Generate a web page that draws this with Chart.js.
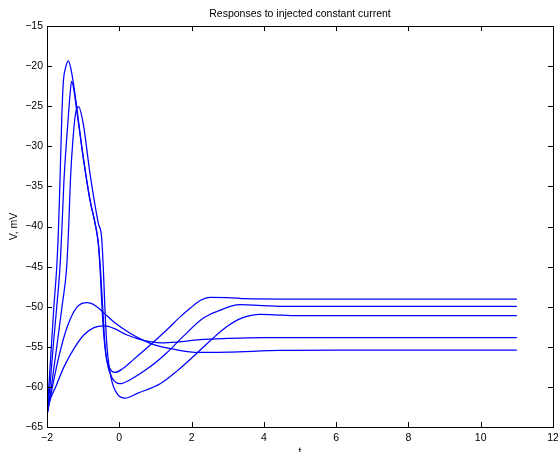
<!DOCTYPE html>
<html>
<head>
<meta charset="utf-8">
<script src="https://cdn.jsdelivr.net/npm/chart.js@4.4.1/dist/chart.umd.min.js"></script>
<style>
  html, body { margin: 0; padding: 0; background: #fff; }
  #wrap { width: 558px; height: 452px; position: relative; }
</style>
</head>
<body>
<div id="wrap"><canvas id="chart"></canvas></div>
<script>
// Membrane potential traces (t, V in mV)
const t1 = [-2, -1.95, -1.88, -1.81, -1.73, -1.68, -1.64, -1.59, -1.55, -1.48, -1.41, -1.34, -1.27, -1.18, -1.0, -0.81, -0.67, -0.58, -0.53, -0.48, -0.42, -0.35, -0.25, -0.12, 0.1, 0.39, 0.8, 1.31, 1.7, 1.96, 2.25, 2.51, 3.0, 3.5, 4.5, 6, 8, 11];
const v1 = [-63.5, -60, -55, -50, -45, -40, -34.2, -26.3, -22.1, -20.1, -19.35, -20.3, -22.1, -25.0, -31.3, -36.7, -39.6, -42.1, -45.4, -50, -54, -56.6, -57.8, -58.2, -57.7, -56.6, -55, -52.9, -51.2, -50.2, -49.2, -48.83, -48.85, -49.0, -49.05, -49.05, -49.05, -49.05];

const t2 = [-2, -1.92, -1.83, -1.73, -1.64, -1.585, -1.53, -1.41, -1.36, -1.32, -1.24, -1.18, -1.0, -0.81, -0.67, -0.58, -0.52, -0.46, -0.40, -0.32, -0.18, 0.02, 0.3, 0.85, 1.3, 1.77, 2.3, 2.7, 3.34, 4.0, 4.45, 6, 8, 11];
const v2 = [-63.5, -60, -55, -50, -45, -40, -34.2, -26.3, -23.4, -21.9, -23.4, -25.5, -31.3, -36.7, -39.6, -42.1, -45.4, -50, -54.5, -57.3, -59.0, -59.6, -59.1, -57.5, -55.8, -53.7, -51.5, -50.6, -49.75, -49.85, -49.95, -49.95, -49.95, -49.95];

const t3 = [-2, -1.88, -1.73, -1.585, -1.455, -1.40, -1.35, -1.28, -1.21, -1.13, -1.0, -0.81, -0.58, -0.49, -0.44, -0.40, -0.34, -0.22, -0.05, 0.16, 0.5, 1.13, 1.6, 2.05, 2.5, 2.97, 3.4, 3.89, 4.5, 5, 8, 11];
const v3 = [-63.5, -60, -55, -50, -45, -40, -34, -29, -25.9, -25.06, -27.1, -33.4, -39.6, -41.3, -45.4, -50, -55, -59, -60.9, -61.4, -60.8, -59.6, -58.0, -56.2, -54.3, -52.5, -51.4, -50.95, -51.05, -51.12, -51.12, -51.12];

// subthreshold responses
const tA = [-2, -1.85, -1.67, -1.44, -1.16, -0.885, -0.65, -0.42, -0.15, 0.3, 0.67, 1.0, 1.5, 2.2, 3.0, 4.45, 6, 11];
const vA = [-63.5, -60, -56.2, -52.5, -50.0, -49.5, -49.9, -50.8, -51.9, -53.3, -54.2, -54.8, -55.3, -55.7, -55.65, -55.45, -55.4, -55.4];

const tB = [-2, -1.94, -1.76, -1.53, -1.25, -0.976, -0.70, -0.42, -0.15, 0.2, 0.67, 1.15, 1.6, 2.23, 3.0, 4, 11];
const vB = [-63.5, -62, -60, -57.5, -55.2, -53.5, -52.6, -52.4, -52.7, -53.5, -54.2, -54.5, -54.4, -54.1, -53.95, -53.85, -53.85];

const traces = [[t1, v1], [t2, v2], [t3, v3], [tA, vA], [tB, vB]];

const xTicks = [-2, 0, 2, 4, 6, 8, 10, 12];
const yTicks = [-65, -60, -55, -50, -45, -40, -35, -30, -25, -20, -15];

const fontFamily = '"Liberation Sans", Arial, Helvetica, sans-serif';

function minus(v) {
    return String(v).replace('-', '\u2212');
}

// MATLAB-like box with inward tick marks on all four sides
const boxPlugin = {
    id: 'matlabBox',
    afterDraw(chart) {
        const ctx = chart.ctx;
        const a = chart.chartArea;
        const xs = chart.scales.x;
        const ys = chart.scales.y;
        const len = 5;
        ctx.save();
        ctx.strokeStyle = '#000';
        ctx.lineWidth = 1;
        ctx.beginPath();
        xTicks.forEach(v => {
            const px = Math.round(xs.getPixelForValue(v)) + 0.5;
            ctx.moveTo(px, a.bottom);
            ctx.lineTo(px, a.bottom - len);
            ctx.moveTo(px, a.top);
            ctx.lineTo(px, a.top + len);
        });
        yTicks.forEach(v => {
            const py = Math.round(ys.getPixelForValue(v)) + 0.5;
            ctx.moveTo(a.left, py);
            ctx.lineTo(a.left + len, py);
            ctx.moveTo(a.right, py);
            ctx.lineTo(a.right - len, py);
        });
        ctx.stroke();
        ctx.strokeRect(Math.round(a.left) + 0.5, Math.round(a.top) + 0.5,
            Math.round(a.right - a.left), Math.round(a.bottom - a.top));
        ctx.restore();
    }
};

const datasets = traces.map(([t, v]) => ({
    data: t.map((x, i) => ({ x: x, y: v[i] })),
    showLine: true,
    borderColor: '#0000ff',
    borderWidth: 1.25,
    pointRadius: 0,
    cubicInterpolationMode: 'monotone',
    fill: false
}));

new Chart(document.getElementById('chart'), {
    type: 'scatter',
    data: { datasets: datasets },
    plugins: [boxPlugin],
    options: {
        responsive: true,
        maintainAspectRatio: false,
        animation: false,
        layout: { padding: { left: 0, right: 5, top: 0, bottom: 0 } },
        plugins: {
            legend: { display: false },
            tooltip: { enabled: false },
            title: {
                display: true,
                text: 'Responses to injected constant current',
                fullSize: false,
                color: '#000',
                font: { family: fontFamily, size: 10.5, weight: 'normal', lineHeight: 1.15 },
                padding: { top: 8, bottom: 6 }
            }
        },
        scales: {
            x: {
                type: 'linear',
                min: -2,
                max: 12,
                grid: { display: false, drawTicks: false },
                border: { display: false },
                afterBuildTicks: scale => { scale.ticks = xTicks.map(v => ({ value: v })); },
                afterFit: scale => { scale.height = 25; scale.paddingLeft = 0; scale.paddingRight = 0; },
                ticks: {
                    color: '#000',
                    padding: 5,
                    maxRotation: 0,
                    autoSkip: false,
                    font: { family: fontFamily, size: 10.5 },
                    callback: v => minus(v)
                },
                title: {
                    display: true,
                    text: 't',
                    color: '#000',
                    font: { family: fontFamily, size: 10.5 },
                    padding: { top: 0, bottom: -6 }
                }
            },
            y: {
                type: 'linear',
                min: -65,
                max: -15,
                grid: { display: false, drawTicks: false },
                border: { display: false },
                afterBuildTicks: scale => { scale.ticks = yTicks.map(v => ({ value: v })); },
                afterFit: scale => { scale.width = 47; scale.paddingTop = 0; scale.paddingBottom = 0; },
                ticks: {
                    color: '#000',
                    padding: 4,
                    autoSkip: false,
                    font: { family: fontFamily, size: 10.5 },
                    callback: v => minus(v)
                },
                title: {
                    display: true,
                    text: 'V, mV',
                    color: '#000',
                    font: { family: fontFamily, size: 10.5 },
                    padding: { top: 8, bottom: 0 }
                }
            }
        }
    }
});
</script>
</body>
</html>
